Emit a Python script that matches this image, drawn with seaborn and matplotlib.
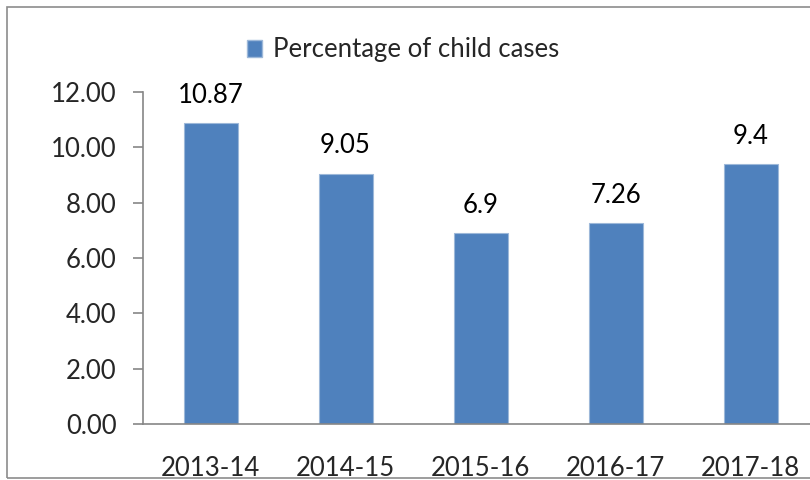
import matplotlib
matplotlib.use("Agg")
import matplotlib.pyplot as plt
import matplotlib.patches as mpatches
import seaborn as sns
import pandas as pd

years = ["2013-14", "2014-15", "2015-16", "2016-17", "2017-18"]
values = [10.87, 9.05, 6.9, 7.26, 9.4]
value_labels = ["10.87", "9.05", "6.9", "7.26", "9.4"]
series_name = "Percentage of child cases"
yticks = [0, 2, 4, 6, 8, 10, 12]

sns.set_theme(style="white")
plt.rcParams['font.family'] = ['Lato', 'DejaVu Sans']

W, H = 810, 480
FS = 18.5
fig = plt.figure(figsize=(W / 100, H / 100), dpi=100)
fig.patch.set_facecolor("white")

# outer chart border (cropped at right)
fig.add_artist(mpatches.Rectangle((7 / W, 1 - 478 / H), 1.2, (478 - 7) / H,
                                  transform=fig.transFigure, fill=False,
                                  edgecolor="#8c8c8c", linewidth=1.2))

ax = fig.add_axes([143 / W, 1 - 424 / H, 675 / W, (424 - 92) / H])
df = pd.DataFrame({"year": years, "value": values})
sns.barplot(data=df, x="year", y="value", ax=ax, color="#4F81BD",
            width=0.4, saturation=1, edgecolor="#9db8d9", linewidth=0.8)

for i, (v, lab) in enumerate(zip(values, value_labels)):
    ax.annotate(lab, (i, v), xytext=(0, 11), textcoords="offset points",
                ha="center", va="bottom", fontsize=FS, color="black")

ax.set_xlim(-0.5, len(years) - 0.5)
ax.set_ylim(0, 12)
ax.set_yticks(yticks)
ax.set_yticklabels([f"{t:.2f}" for t in yticks], fontsize=FS)
ax.set_xticks([i - 0.5 for i in range(len(years) + 1)])
ax.set_xticklabels([])
ax.set_xticks(range(len(years)), minor=True)
ax.set_xticklabels(years, minor=True, fontsize=FS)
ax.tick_params(axis="x", which="major", length=7, width=1.2, color="#868686", direction="out")
ax.tick_params(axis="x", which="minor", length=0, pad=23)
ax.tick_params(axis="y", length=7, width=1.2, color="#868686", direction="out", pad=12, left=True)
ax.set_xlabel("")
ax.set_ylabel("")
for s in ["top", "right"]:
    ax.spines[s].set_visible(False)
for s in ["left", "bottom"]:
    ax.spines[s].set_color("#868686")
    ax.spines[s].set_linewidth(1.2)
ax.set_facecolor("white")

handle = mpatches.Patch(facecolor="#4F81BD", edgecolor="#9db8d9", label=series_name)
fig.legend(handles=[handle], loc="center", bbox_to_anchor=(403 / W, 1 - 50 / H),
           frameon=False, fontsize=FS, handlelength=0.6, handleheight=0.6,
           handletextpad=0.4)

fig.savefig("out.png", dpi=100)
